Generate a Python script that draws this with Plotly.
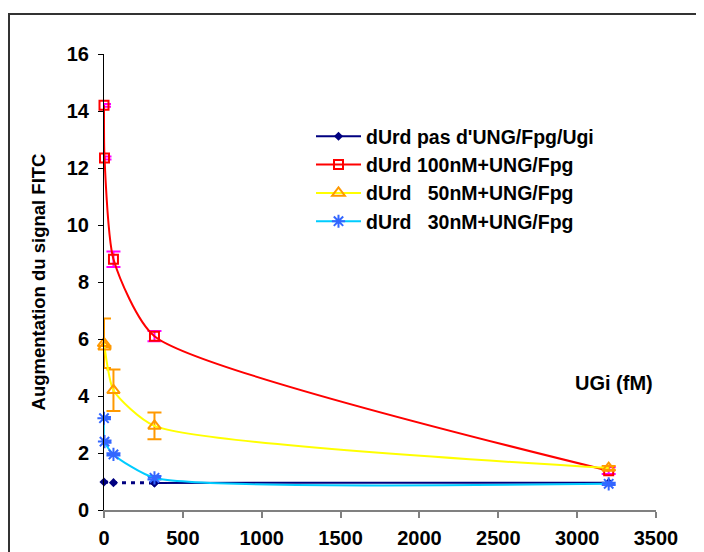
import plotly.graph_objects as go

# ---- data ----
x_ugi = [0, 3.2, 60, 320, 3200]          # UGi (fM)
x_ctrl = [0, 60, 320, 3200]
y_ctrl = [0.98, 0.96, 0.95, 0.96]        # dUrd pas d'UNG/Fpg/Ugi
y_100 = [14.2, 12.35, 8.8, 6.1, 1.38]    # dUrd 100nM+UNG/Fpg
err_100 = [0.05, 0.05, 0.27, 0.18, 0.12]
y_50 = [5.85, 5.73, 4.2, 2.95, 1.47]     # dUrd 50nM+UNG/Fpg
err_50 = [0.87, 0.02, 0.73, 0.47, 0.07]
y_30 = [3.22, 2.40, 1.95, 1.13, 0.92]    # dUrd 30nM+UNG/Fpg
err_30 = [0.04, 0.04, 0.04, 0.06, 0.04]

names = ["dUrd pas d'UNG/Fpg/Ugi",
         "dUrd 100nM+UNG/Fpg",
         "dUrd\u00a0\u00a0\u00a050nM+UNG/Fpg",
         "dUrd\u00a0\u00a0\u00a030nM+UNG/Fpg"]
x_ticks = [0, 500, 1000, 1500, 2000, 2500, 3000, 3500]
y_ticks = [0, 2, 4, 6, 8, 10, 12, 14, 16]

FONT = "Liberation Sans, Arial, sans-serif"
NAVY = "#000080"
SMOOTH = 0.6

fig = go.Figure()

# control series: solid part (with legend) and dotted part
fig.add_trace(go.Scatter(
    x=x_ctrl[2:], y=y_ctrl[2:], name=names[0], mode="lines+markers",
    line=dict(color=NAVY, width=2),
    marker=dict(symbol="diamond", size=7, color=NAVY),
    cliponaxis=False))
fig.add_trace(go.Scatter(
    x=x_ctrl[:3], y=y_ctrl[:3], name=names[0], mode="lines+markers",
    showlegend=False,
    line=dict(color=NAVY, width=3, dash="4px,5px"),
    marker=dict(symbol="diamond", size=7, color=NAVY),
    cliponaxis=False))

fig.add_trace(go.Scatter(
    x=x_ugi, y=y_100, name=names[1], mode="lines+markers",
    line=dict(color="#FF0000", width=2, shape="spline", smoothing=SMOOTH),
    marker=dict(symbol="square-open", size=9, color="#FF0000",
                line=dict(width=2, color="#FF0000")),
    error_y=dict(type="data", array=err_100, color="#FF00FF",
                 thickness=2, width=7),
    cliponaxis=False))

fig.add_trace(go.Scatter(
    x=x_ugi, y=y_50, name=names[2], mode="lines+markers",
    line=dict(color="#FFFF00", width=2, shape="spline", smoothing=SMOOTH),
    marker=dict(symbol="triangle-up-open", size=11, color="#FF9900",
                line=dict(width=2, color="#FF9900")),
    error_y=dict(type="data", array=err_50, color="#FF9900",
                 thickness=2, width=7),
    cliponaxis=False))

fig.add_trace(go.Scatter(
    x=x_ugi, y=y_30, name=names[3], mode="lines+markers",
    line=dict(color="#00CCFF", width=2, shape="spline", smoothing=SMOOTH),
    marker=dict(symbol="asterisk-open", size=11, color="#3366FF",
                line=dict(width=2, color="#3366FF")),
    error_y=dict(type="data", array=err_30, color="#3366FF",
                 thickness=2, width=7),
    cliponaxis=False))

# page has an 8px body margin: work in figure coordinates
OFF = 8
W, H = 704 - OFF, 552 - OFF
L, T = 104 - OFF, 54 - OFF
R = W - (656 - OFF)
B = H - (510 - OFF)
pw, ph = W - L - R, H - T - B


def px(page_x):
    return (page_x - OFF - L) / pw


def py(page_y):
    return (H - B - (page_y - OFF)) / ph


fig.update_layout(
    width=W, height=H,
    margin=dict(l=L, r=R, t=T, b=B, pad=0, autoexpand=False),
    paper_bgcolor="white", plot_bgcolor="white",
    font=dict(family=FONT, size=19, color="black", weight="bold"),
    showlegend=True,
    legend=dict(x=px(311), y=py(117),
                xanchor="left", yanchor="top",
                bgcolor="rgba(0,0,0,0)", borderwidth=0,
                font=dict(family=FONT, size=19.5, color="black",
                          weight="bold"),
                itemwidth=45, tracegroupgap=0),
    xaxis=dict(range=[0, 3500], tickvals=x_ticks, showgrid=False,
               zeroline=False, showline=True, linecolor="#808080",
               linewidth=1.5, ticks="outside", ticklen=6,
               tickcolor="#808080", tickwidth=1.5,
               ticklabelstandoff=3, automargin=False,
               tickfont=dict(family=FONT, size=20, color="black",
                             weight="bold")),
    yaxis=dict(range=[0, 16], tickvals=y_ticks, showgrid=False,
               zeroline=False, showline=True, linecolor="black",
               linewidth=1, ticks="outside", ticklen=5,
               tickcolor="black", tickwidth=1,
               ticklabelstandoff=5, automargin=False,
               tickfont=dict(family=FONT, size=20, color="black",
                             weight="bold"),
               title=dict(text="Augmentation du signal FITC",
                          font=dict(family=FONT, size=18.5, color="black",
                                    weight="bold"),
                          standoff=16)),
    annotations=[dict(text="UGi (fM)", xref="paper", yref="paper",
                      x=px(614), y=py(383),
                      xanchor="center", yanchor="middle", showarrow=False,
                      font=dict(family=FONT, size=20, color="black",
                                weight="bold"))],
    shapes=[dict(type="rect", xref="paper", yref="paper",
                 x0=px(9), x1=1.3, y0=-0.3, y1=py(14),
                 line=dict(color="#333333", width=2),
                 fillcolor="rgba(0,0,0,0)", layer="below")],
)

fig.write_html("out.html")
